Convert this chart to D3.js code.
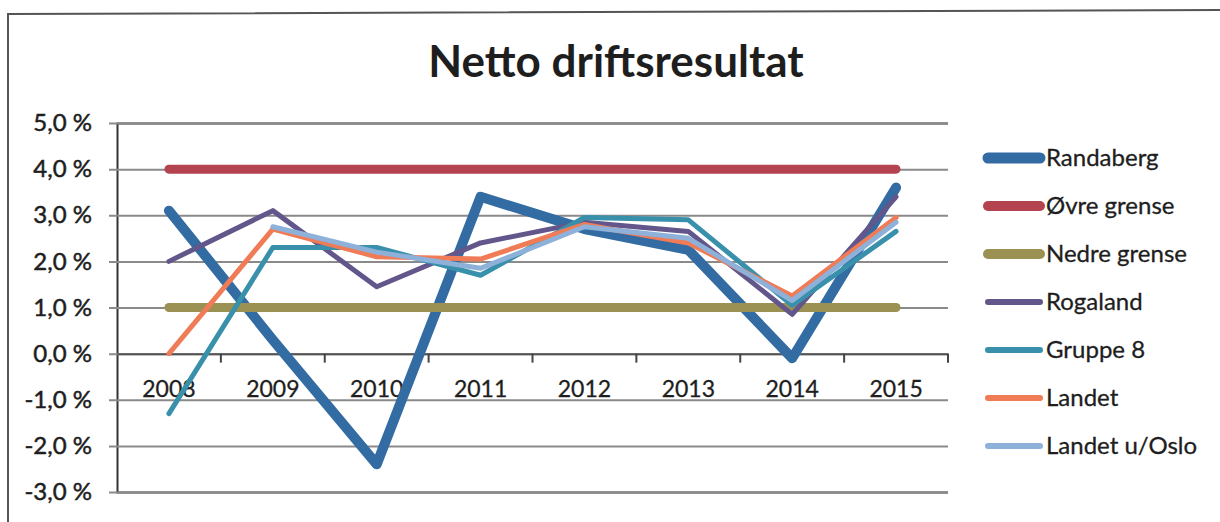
<!DOCTYPE html>
<html>
<head>
<meta charset="utf-8">
<script src="https://cdn.jsdelivr.net/npm/d3@7"></script>
<style>
  body { margin: 0; background: #fff; }
  text { font-family: Lato, "Open Sans", sans-serif; fill: #1e1e1e; }
</style>
</head>
<body>
<div id="chart"></div>
<script>
// values (percent)
var years = ["2008", "2009", "2010", "2011", "2012", "2013", "2014", "2015"];
var yTicks = [5, 4, 3, 2, 1, 0, -1, -2, -3];

var randaberg   = [3.1, 0.3, -2.4, 3.4, 2.7, 2.25, -0.1, 3.6];
var ovreGrense  = [4.0, 4.0, 4.0, 4.0, 4.0, 4.0, 4.0, 4.0];
var nedreGrense = [1.0, 1.0, 1.0, 1.0, 1.0, 1.0, 1.0, 1.0];
var rogaland    = [2.0, 3.1, 1.45, 2.4, 2.85, 2.65, 0.85, 3.4];
var gruppe8     = [-1.3, 2.3, 2.3, 1.7, 2.95, 2.9, 1.05, 2.65];
var landet      = [0.0, 2.7, 2.1, 2.05, 2.8, 2.4, 1.25, 2.95];
var landetUOslo = [null, 2.75, 2.2, 1.85, 2.75, 2.5, 1.15, 2.85];

var seriesNames = ["Randaberg", "Øvre grense", "Nedre grense", "Rogaland", "Gruppe 8", "Landet", "Landet u/Oslo"];
var seriesValues = [randaberg, ovreGrense, nedreGrense, rogaland, gruppe8, landet, landetUOslo];
var seriesColors = ["#336ba3", "#b3434f", "#9b9152", "#62568a", "#3890ab", "#f07b57", "#8eb1da"];
var seriesWidths = [10, 9, 9, 5, 5, 5, 5];

var W = 1220, H = 522;
var plot = {left: 117, right: 948, top: 123, bottom: 492};

var svg = d3.select("#chart").append("svg")
    .attr("width", W)
    .attr("height", H);

// chart frame (left and top edge of the pasted Excel chart)
svg.append("path")
    .attr("d", "M8,522 L8,14 L1220,10")
    .attr("fill", "none")
    .attr("stroke", "#555")
    .attr("stroke-width", 2);

svg.append("text")
    .attr("x", 616)
    .attr("y", 77)
    .attr("text-anchor", "middle")
    .attr("font-size", 44)
    .attr("font-weight", "bold")
    .attr("fill", "#222")
    .text("Netto driftsresultat");

var xScale = d3.scaleBand()
    .domain(years)
    .range([plot.left, plot.right]);

var yScale = d3.scaleLinear()
    .domain([-3, 5])
    .range([plot.bottom, plot.top]);

// y axis with gridlines
var yAxis = svg.append("g")
    .attr("transform", "translate(" + plot.left + ",0)")
    .call(d3.axisLeft(yScale)
        .tickValues(yTicks)
        .tickSize(-(plot.right - plot.left))
        .tickPadding(25)
        .tickFormat(function(d) { return d.toFixed(1).replace(".", ",") + " %"; }));
yAxis.select(".domain").attr("stroke", "#333").attr("stroke-width", 2);
yAxis.selectAll(".tick line")
    .attr("x1", -8)
    .attr("stroke", "#8a8a8a")
    .attr("stroke-width", 2);
yAxis.selectAll(".tick text")
    .attr("font-size", 24)
    .attr("fill", "#1e1e1e")
    .attr("stroke", "#1e1e1e")
    .attr("stroke-width", 0.5);

// x axis on the zero line
var xAxis = svg.append("g")
    .attr("transform", "translate(0," + yScale(0) + ")")
    .call(d3.axisBottom(xScale).tickSize(0).tickPadding(27));
xAxis.select(".domain").attr("stroke", "#555").attr("stroke-width", 2);
xAxis.selectAll(".tick text")
    .attr("font-size", 23)
    .attr("fill", "#1e1e1e")
    .attr("stroke", "#1e1e1e")
    .attr("stroke-width", 0.3);

// tick marks between categories
svg.append("g").selectAll("line")
    .data(years)
    .enter().append("line")
    .attr("x1", function(d) { return xScale(d) + xScale.bandwidth(); })
    .attr("x2", function(d) { return xScale(d) + xScale.bandwidth(); })
    .attr("y1", yScale(0))
    .attr("y2", yScale(0) + 9)
    .attr("stroke", "#444")
    .attr("stroke-width", 2);

var line = d3.line()
    .defined(function(d) { return d.v !== null; })
    .x(function(d) { return xScale(d.year) + xScale.bandwidth() / 2; })
    .y(function(d) { return yScale(d.v); });

seriesValues.forEach(function(vals, i) {
    var pts = years.map(function(y, j) { return {year: y, v: vals[j]}; });
    svg.append("path")
        .datum(pts)
        .attr("d", line)
        .attr("fill", "none")
        .attr("stroke", seriesColors[i])
        .attr("stroke-width", seriesWidths[i])
        .attr("stroke-linecap", "round")
        .attr("stroke-linejoin", "round");
});

// legend
var legend = svg.append("g");
seriesNames.forEach(function(name, i) {
    var y = 158 + i * 48;
    legend.append("line")
        .attr("x1", 988).attr("x2", 1040)
        .attr("y1", y).attr("y2", y)
        .attr("stroke", seriesColors[i])
        .attr("stroke-width", seriesWidths[i] + 1)
        .attr("stroke-linecap", "round");
    legend.append("text")
        .attr("x", 1046)
        .attr("y", y + 8)
        .attr("font-size", 24)
        .attr("stroke", "#1e1e1e")
        .attr("stroke-width", 0.3)
        .text(name);
});
</script>
</body>
</html>
